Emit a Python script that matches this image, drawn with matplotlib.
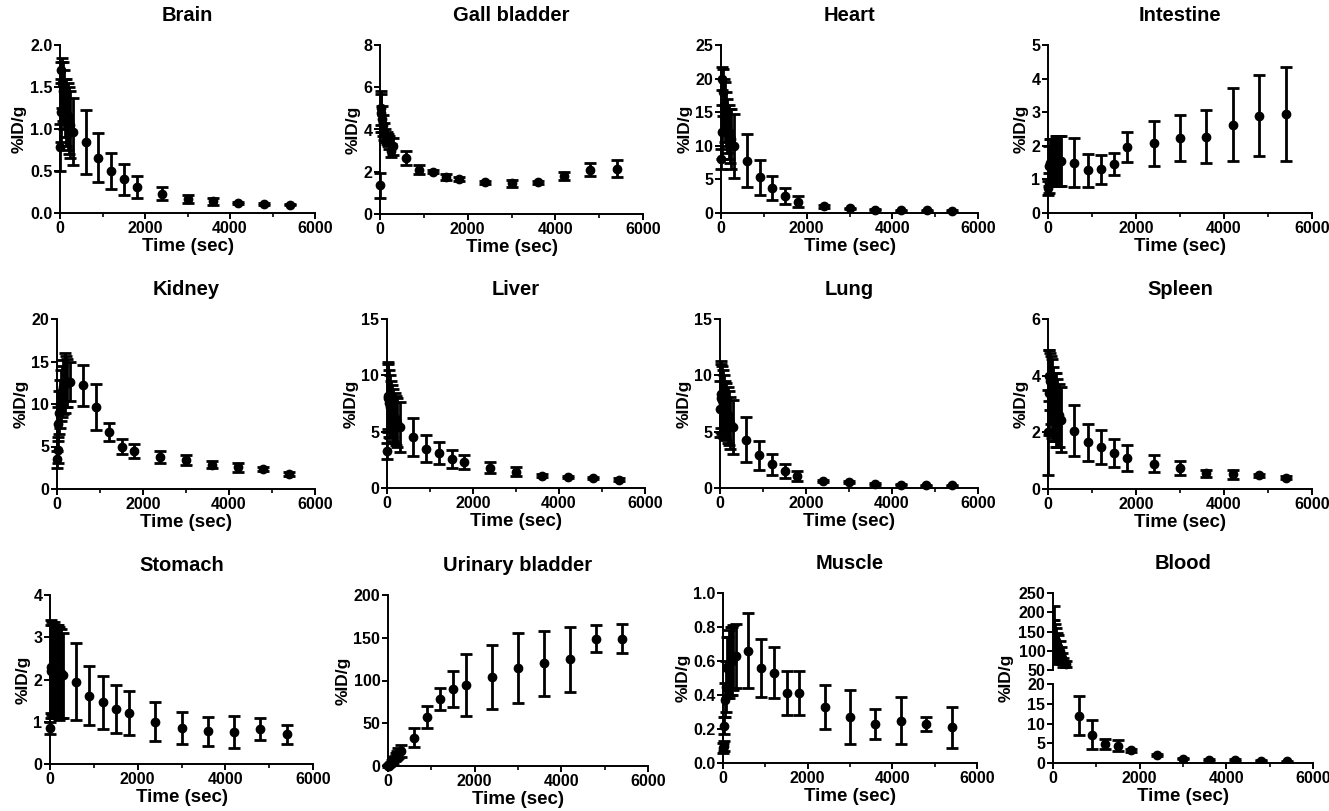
import matplotlib
matplotlib.use("Agg")
import matplotlib.pyplot as plt
from matplotlib.ticker import MultipleLocator, FixedLocator

plt.rcParams['font.family'] = ['Liberation Sans', 'DejaVu Sans']
plt.rcParams['font.weight'] = 'bold'
plt.rcParams['axes.labelweight'] = 'bold'
plt.rcParams['axes.titleweight'] = 'bold'

# sampling times (sec)
t_early = [10, 20, 30, 45, 60, 90, 120, 150, 180, 210, 240, 300]
t_late = [600, 900, 1200, 1500, 1800, 2400, 3000, 3600, 4200, 4800, 5400]
times = t_early + t_late

organs = ["Brain", "Gall bladder", "Heart", "Intestine",
          "Kidney", "Liver", "Lung", "Spleen",
          "Stomach", "Urinary bladder", "Muscle", "Blood"]

brain_m = [0.78, 1.2, 1.7, 1.55, 1.45, 1.35, 1.25, 1.2, 1.15, 1.1, 1.05, 0.97,
           0.85, 0.66, 0.5, 0.4, 0.31, 0.23, 0.17, 0.14, 0.12, 0.11, 0.10]
brain_e = [0.28, 0.35, 0.1, 0.3, 0.35, 0.35, 0.35, 0.4, 0.4, 0.4, 0.4, 0.4,
           0.38, 0.29, 0.22, 0.18, 0.13, 0.08, 0.05, 0.04, 0.01, 0.01, 0.01]
gall_m = [1.35, 4.8, 5.0, 4.5, 4.2, 3.9, 3.7, 3.6, 3.5, 3.4, 3.0, 3.2,
          2.65, 2.1, 2.0, 1.75, 1.65, 1.5, 1.45, 1.5, 1.8, 2.1, 2.15]
gall_e = [0.6, 0.9, 0.8, 0.6, 0.5, 0.4, 0.3, 0.3, 0.3, 0.3, 0.3, 0.4,
          0.35, 0.2, 0.08, 0.15, 0.08, 0.08, 0.15, 0.08, 0.2, 0.3, 0.4]
heart_m = [8.0, 12.0, 20.0, 18.0, 16.0, 15.0, 14.0, 13.0, 12.0, 11.5, 11.0, 10.0,
           7.8, 5.3, 3.7, 2.5, 1.7, 1.0, 0.7, 0.5, 0.4, 0.4, 0.3]
heart_e = [1.5, 4.0, 1.7, 3.5, 4.0, 4.5, 4.0, 4.0, 4.0, 4.0, 4.5, 4.8,
           4.0, 2.6, 1.8, 1.2, 0.8, 0.2, 0.1, 0.1, 0.1, 0.1, 0.1]
intest_m = [0.75, 0.9, 1.4, 1.5, 1.5, 1.5, 1.5, 1.5, 1.55, 1.55, 1.55, 1.55,
            1.5, 1.27, 1.3, 1.45, 1.97, 2.07, 2.23, 2.27, 2.63, 2.9, 2.95]
intest_e = [0.2, 0.3, 0.6, 0.7, 0.7, 0.7, 0.7, 0.7, 0.75, 0.75, 0.75, 0.75,
            0.72, 0.5, 0.43, 0.33, 0.44, 0.68, 0.69, 0.79, 1.09, 1.21, 1.41]
kidney_m = [3.5, 4.6, 7.6, 9.0, 10.0, 11.0, 11.5, 12.0, 12.5, 12.7, 12.5, 12.6,
            12.2, 9.7, 6.7, 5.0, 4.5, 3.8, 3.4, 2.85, 2.55, 2.35, 1.75]
kidney_e = [1.0, 1.5, 2.0, 2.5, 2.8, 3.0, 3.0, 3.2, 3.5, 3.0, 2.8, 2.3,
            2.4, 2.7, 1.1, 0.9, 0.8, 0.7, 0.6, 0.4, 0.5, 0.2, 0.2]
liver_m = [3.3, 8.2, 8.0, 7.5, 7.2, 7.0, 6.8, 6.5, 6.2, 6.0, 5.8, 5.4,
           4.5, 3.5, 3.1, 2.6, 2.3, 1.8, 1.45, 1.1, 0.97, 0.9, 0.75]
liver_e = [0.7, 3.0, 3.0, 3.0, 2.8, 2.5, 2.3, 2.3, 2.2, 2.2, 2.2, 2.2,
           1.7, 1.2, 1.0, 0.8, 0.65, 0.5, 0.4, 0.15, 0.1, 0.1, 0.1]
lung_m = [7.0, 8.3, 8.0, 7.8, 7.5, 7.2, 7.0, 6.8, 6.5, 6.2, 5.8, 5.4,
          4.3, 2.9, 2.1, 1.5, 1.05, 0.65, 0.5, 0.35, 0.3, 0.25, 0.25]
lung_e = [2.5, 3.0, 3.0, 3.0, 3.0, 2.8, 2.5, 2.5, 2.5, 2.4, 2.3, 2.4,
          2.0, 1.3, 0.95, 0.65, 0.45, 0.1, 0.1, 0.05, 0.05, 0.05, 0.05]
spleen_m = [2.0, 3.4, 4.0, 3.8, 3.5, 3.2, 3.0, 2.9, 2.8, 2.7, 2.6, 2.45,
            2.05, 1.65, 1.5, 1.28, 1.1, 0.9, 0.73, 0.55, 0.52, 0.48, 0.4]
spleen_e = [1.5, 1.5, 0.9, 1.0, 1.2, 1.4, 1.3, 1.2, 1.3, 1.2, 1.1, 1.15,
            0.9, 0.65, 0.6, 0.5, 0.45, 0.3, 0.25, 0.13, 0.15, 0.05, 0.05]
stomach_m = [0.85, 2.3, 2.2, 2.25, 2.2, 2.25, 2.2, 2.2, 2.2, 2.15, 2.15, 2.1,
             1.95, 1.62, 1.46, 1.3, 1.2, 1.0, 0.86, 0.77, 0.76, 0.83, 0.7]
stomach_e = [0.15, 1.1, 1.1, 1.1, 1.1, 1.1, 1.1, 1.1, 1.1, 1.1, 1.05, 1.0,
             0.92, 0.7, 0.62, 0.56, 0.52, 0.46, 0.38, 0.34, 0.38, 0.26, 0.23]
urinary_m = [0.0, 0.5, 1.0, 2.0, 3.0, 5.0, 7.0, 9.0, 11.0, 13.0, 15.0, 17.0,
             33.0, 57.0, 78.0, 90.0, 95.0, 104.0, 115.0, 120.0, 125.0, 149.0, 149.0]
urinary_e = [1.0, 1.0, 1.0, 1.0, 1.5, 2.0, 3.0, 3.0, 4.0, 5.0, 6.0, 7.0,
             11.0, 13.0, 13.0, 21.0, 36.0, 37.0, 41.0, 38.0, 38.0, 16.0, 17.0]
muscle_m = [0.09, 0.10, 0.22, 0.37, 0.45, 0.56, 0.57, 0.58, 0.60, 0.60, 0.62, 0.63,
            0.66, 0.56, 0.53, 0.41, 0.41, 0.33, 0.27, 0.23, 0.25, 0.23, 0.21]
muscle_e = [0.03, 0.03, 0.05, 0.10, 0.15, 0.18, 0.17, 0.20, 0.20, 0.20, 0.19, 0.19,
            0.22, 0.17, 0.15, 0.13, 0.13, 0.13, 0.16, 0.09, 0.14, 0.04, 0.12]
blood_m = [130, 140, 135, 130, 125, 115, 110, 100, 90, 80, 70, 65,
           12.0, 7.2, 4.9, 4.4, 3.2, 2.1, 1.1, 0.8, 0.7, 0.6, 0.4]
blood_e = [50, 75, 45, 40, 35, 30, 30, 25, 20, 15, 12, 8,
           5.0, 3.6, 1.3, 1.3, 0.4, 0.3, 0.2, 0.2, 0.2, 0.2, 0.2]

means = [brain_m, gall_m, heart_m, intest_m, kidney_m, liver_m, lung_m, spleen_m,
         stomach_m, urinary_m, muscle_m, blood_m]
errs = [brain_e, gall_e, heart_e, intest_e, kidney_e, liver_e, lung_e, spleen_e,
        stomach_e, urinary_e, muscle_e, blood_e]
ytop = [2.0, 8, 25, 5, 20, 15, 15, 6, 4, 200, 1.0, None]
ystep = [0.5, 2, 5, 1, 5, 5, 5, 2, 1, 50, 0.2, None]

W, H = 1329, 811
fig = plt.figure(figsize=(W / 100, H / 100), dpi=100)

# axes boxes in pixels: left, right, top, bottom
boxes = [(60, 315, 45, 213), (380, 643, 45, 214), (721, 978, 45, 213), (1048, 1312, 45, 213),
         (57, 315, 319, 489), (387, 645, 319, 488), (720, 978, 319, 488), (1048, 1312, 319, 489),
         (50, 313, 595, 764), (388, 648, 595, 766), (723, 977, 593, 763), (1053, 1313, 593, 763)]


def px_axes(l, r, t, b):
    return fig.add_axes([l / W, 1 - b / H, (r - l) / W, (b - t) / H])


def style(ax, xaxis=True):
    for s in ["top", "right"]:
        ax.spines[s].set_visible(False)
    ax.spines["left"].set_linewidth(1.4)
    ax.spines["bottom"].set_linewidth(1.4)
    ax.tick_params(axis="both", which="major", direction="out", length=4, width=1.4,
                   labelsize=11.5, pad=1.5)
    ax.tick_params(axis="x", which="minor", direction="out", length=3, width=1.2)
    ax.set_xlim(0, 6000)
    ax.xaxis.set_major_locator(MultipleLocator(2000))
    ax.xaxis.set_minor_locator(FixedLocator([1000, 3000, 5000]))
    for lab in ax.get_xticklabels() + ax.get_yticklabels():
        lab.set_fontweight("bold")
    if xaxis:
        ax.set_xlabel("Time (sec)", fontsize=13.5, labelpad=2)


eb_kw = dict(fmt="o", color="black", markersize=6, elinewidth=2, capsize=4, capthick=2)

for i, name in enumerate(organs):
    l, r, t, b = boxes[i]
    if name != "Blood":
        ax = px_axes(l, r, t, b)
        ax.errorbar(times, means[i], yerr=errs[i], clip_on=False, **eb_kw)
        ax.set_ylim(0, ytop[i])
        ax.yaxis.set_major_locator(MultipleLocator(ystep[i]))
        if ystep[i] < 1:
            ax.yaxis.set_major_formatter("{x:.1f}")
        style(ax)
        ax.set_ylabel("%ID/g", fontsize=12.5, labelpad=2)
        ax.set_title(name, fontsize=14.5, pad=17)
    else:
        # broken y axis
        ax_hi = px_axes(l, r, t, 670)
        ax_lo = px_axes(l, r, 684, b)
        for ax in (ax_hi, ax_lo):
            ax.errorbar(times, means[i], yerr=errs[i], **eb_kw)
        ax_hi.set_ylim(50, 250)
        ax_hi.yaxis.set_major_locator(MultipleLocator(50))
        ax_lo.set_ylim(0, 20)
        ax_lo.yaxis.set_major_locator(MultipleLocator(5))
        style(ax_lo)
        style(ax_hi, xaxis=False)
        ax_hi.spines["bottom"].set_visible(False)
        ax_hi.tick_params(axis="x", which="both", bottom=False, labelbottom=False)
        ax_hi.set_title(name, fontsize=14.5, pad=17)
        fig.text((l - 47) / W, 1 - ((t + b) / 2) / H, "%ID/g", rotation=90,
                 fontsize=12.5, fontweight="bold", ha="center", va="center")

fig.savefig("out.png", dpi=100)
